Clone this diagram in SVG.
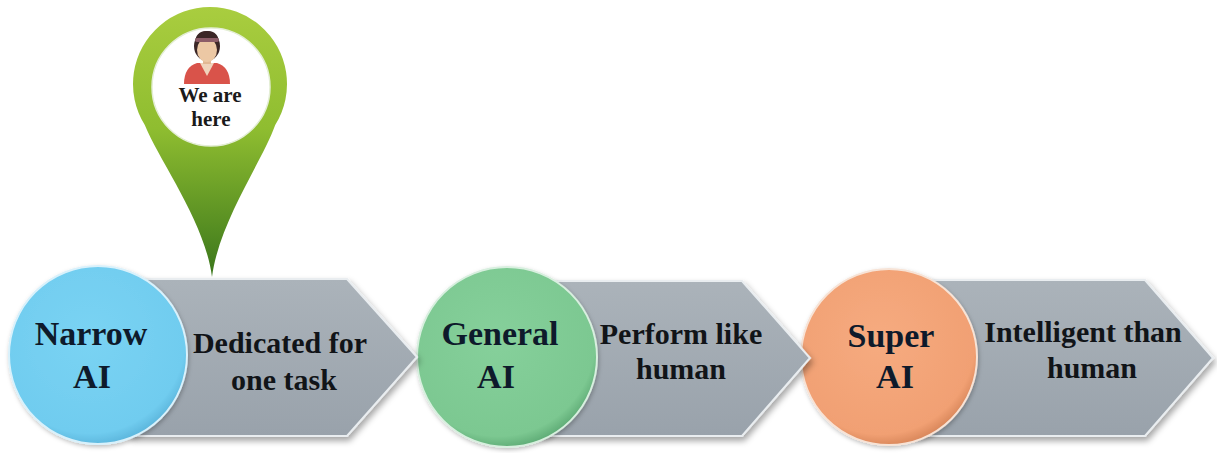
<svg xmlns="http://www.w3.org/2000/svg" width="1217" height="453" viewBox="0 0 1217 453">
<defs>
  <style>
    .lbl{font-family:"Liberation Serif","DejaVu Serif",serif;font-weight:bold;text-anchor:middle}
    .cir{font-size:34px;fill:#0e1a2b}
    .arw{font-size:30px;fill:#111418}
    .pin{font-size:21px;fill:#1a1a1a}
    .arrow{fill:url(#arrowGrad);stroke:#e9edf0;stroke-width:2;filter:url(#shadow)}
  </style>
  <linearGradient id="pinGrad" x1="0" y1="0" x2="0" y2="1">
    <stop offset="0" stop-color="#a9cd3f"/>
    <stop offset="0.45" stop-color="#8fbd30"/>
    <stop offset="1" stop-color="#3a761b"/>
  </linearGradient>
  <linearGradient id="arrowGrad" x1="0" y1="0" x2="0" y2="1">
    <stop offset="0" stop-color="#abb3ba"/>
    <stop offset="1" stop-color="#99a2ab"/>
  </linearGradient>
  <radialGradient id="blueGrad" cx="0.45" cy="0.4" r="0.6">
    <stop offset="0" stop-color="#7ad3f3"/>
    <stop offset="0.9" stop-color="#70ccef"/>
    <stop offset="1" stop-color="#5fb9df"/>
  </radialGradient>
  <radialGradient id="greenGrad" cx="0.45" cy="0.4" r="0.6">
    <stop offset="0" stop-color="#86d09b"/>
    <stop offset="0.9" stop-color="#7cc891"/>
    <stop offset="1" stop-color="#63b07a"/>
  </radialGradient>
  <radialGradient id="orangeGrad" cx="0.45" cy="0.4" r="0.6">
    <stop offset="0" stop-color="#f6ab80"/>
    <stop offset="0.9" stop-color="#f1a073"/>
    <stop offset="1" stop-color="#dc8a5e"/>
  </radialGradient>
  <filter id="shadow" x="-20%" y="-20%" width="140%" height="150%">
    <feDropShadow dx="2" dy="4" stdDeviation="3" flood-color="#000" flood-opacity="0.35"/>
  </filter>
  <filter id="soft" x="-20%" y="-20%" width="140%" height="140%">
    <feDropShadow dx="1" dy="2" stdDeviation="2" flood-color="#000" flood-opacity="0.25"/>
  </filter>
</defs>
<rect width="1217" height="453" fill="#ffffff"/>

<g id="connectors"></g>

<g id="stage3">
  <path class="arrow" d="M915 280 L1145 280 L1213 358 L1145 436 L915 436 Z"/>
  <circle cx="889" cy="357" r="88" fill="url(#orangeGrad)" stroke="#f7e3d6" stroke-width="2" filter="url(#soft)"/>
  <text class="lbl cir" x="891" y="347">Super</text>
  <text class="lbl cir" x="895" y="388">AI</text>
  <text class="lbl arw" x="1083" y="342">Intelligent than</text>
  <text class="lbl arw" x="1092" y="378">human</text>
</g>

<g id="stage2">
  <path class="arrow" d="M540 281 L742 281 L810 358 L742 436 L540 436 Z"/>
  <circle cx="507" cy="357" r="90" fill="url(#greenGrad)" stroke="#d8efdf" stroke-width="2" filter="url(#soft)"/>
  <text class="lbl cir" x="500" y="345">General</text>
  <text class="lbl cir" x="496" y="388">AI</text>
  <text class="lbl arw" x="681" y="344">Perform like</text>
  <text class="lbl arw" x="681" y="379">human</text>
</g>

<g id="stage1">
  <path class="arrow" d="M130 279 L347 279 L417 357 L347 436 L130 436 Z"/>
  <circle cx="98" cy="355" r="89" fill="url(#blueGrad)" stroke="#d9f1fb" stroke-width="2" filter="url(#soft)"/>
  <text class="lbl cir" x="91" y="345">Narrow</text>
  <text class="lbl cir" x="92" y="388">AI</text>
  <text class="lbl arw" x="280" y="353">Dedicated for</text>
  <text class="lbl arw" x="284" y="390">one task</text>
</g>

<g id="pin">
  <path d="M212 277 C205 222 160 162 144.8 125 A77 77 0 1 1 275.2 125 C262 162 219 222 212 277 Z" fill="url(#pinGrad)"/>
  <circle cx="211" cy="87" r="59" fill="#ffffff" stroke="#e4eed6" stroke-width="1.5"/>
  <g id="person">
    <ellipse cx="207" cy="46" rx="13" ry="15" fill="#3b2727"/>
    <path d="M184 84 Q184 67 197 63 L217 63 Q230 67 230 84 Z" fill="#d9534a"/>
    <path d="M200 63 L214 63 L207 76 Z" fill="#f0d3bb"/>
    <rect x="203" y="55" width="8" height="9" fill="#e2b894"/>
    <ellipse cx="207" cy="50" rx="10" ry="12" fill="#ecc8a4"/>
    <path d="M195 44 Q195 31 207 31 Q219 31 219 44 L219 40 Q207 36 195 40 Z" fill="#3b2727"/>
    <rect x="195" y="38" width="24" height="4" rx="2" fill="#8c5d68"/>
  </g>
  <text class="lbl pin" x="210" y="102">We are</text>
  <text class="lbl pin" x="211" y="126">here</text>
</g>
</svg>
